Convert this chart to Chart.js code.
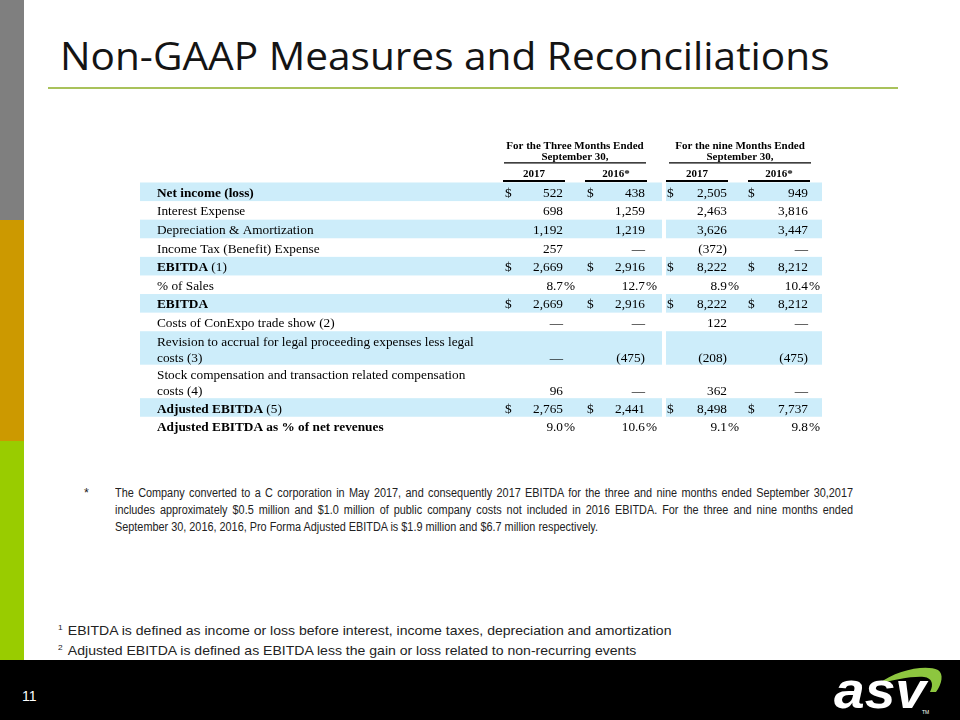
<!DOCTYPE html>
<html>
<head>
<meta charset="utf-8">
<script src="https://cdn.jsdelivr.net/npm/chart.js@4.4.1/dist/chart.umd.min.js"></script>
<style>
    body { margin: 0; background: #fff; }
    #slide { position: relative; width: 960px; height: 720px; overflow: hidden; background: #fff; font-family: "Liberation Sans", Arial, sans-serif; }
    .side { position: absolute; left: 0; width: 24px; }
    #title { position: absolute; left: 60px; top: 36px; font-family: "Open Sans", sans-serif; font-size: 38px; line-height: 38px; color: #141414; white-space: nowrap; transform-origin: left top; }
    #rule { position: absolute; left: 48px; top: 87px; width: 850px; height: 2px; background: #a9c25b; }
    #table-wrap { position: absolute; left: 140px; top: 136px; width: 690px; height: 304px; }
    #star { position: absolute; left: 84px; top: 486px; font-family: "Liberation Sans Narrow", "Liberation Sans", sans-serif; font-size: 12.5px; color: #222; }
    #star-note { position: absolute; left: 115px; top: 485px; transform-origin: left top; font-family: "Liberation Sans Narrow", "Liberation Sans", sans-serif; font-size: 12.5px; line-height: 17px; color: #222; }
    #star-note div { white-space: nowrap; text-align: justify; text-align-last: justify; }
    #star-note div.last { text-align-last: left; }
    .def { position: absolute; left: 58px; font-size: 13.5px; color: #222; white-space: nowrap; transform-origin: left top; }
    .def sup { font-size: 8px; vertical-align: 5px; margin-right: 5px; }
    #footer { position: absolute; left: 0; top: 660px; width: 960px; height: 60px; background: #000; }
    #page-no { position: absolute; left: 22px; top: 688px; color: #fff; font-size: 14px; }
    #logo { position: absolute; left: 826px; top: 660px; }
</style>
</head>
<body>
<div id="slide">
    <div class="side" style="top:0;height:220px;background:#7f7f7f"></div>
    <div class="side" style="top:220px;height:221px;background:#cc9900"></div>
    <div class="side" style="top:441px;height:219px;background:#99cc00"></div>

    <div id="title">Non-GAAP Measures and Reconciliations</div>
    <div id="rule"></div>

    <div id="table-wrap"><canvas id="recon-table" width="690" height="304"></canvas></div>

    <div id="star">*</div>
    <div id="star-note">
        <div>The Company converted to a C corporation in May 2017, and consequently 2017 EBITDA for the three and nine months ended September 30,2017</div>
        <div>includes approximately $0.5 million and $1.0 million of public company costs not included in 2016 EBITDA. For the three and nine months ended</div>
        <div class="last">September 30, 2016, 2016, Pro Forma Adjusted EBITDA is $1.9 million and $6.7 million respectively.</div>
    </div>

    <div class="def" id="def1" style="top:623px"><sup>1</sup>EBITDA is defined as income or loss before interest, income taxes, depreciation and amortization</div>
    <div class="def" id="def2" style="top:643px"><sup>2</sup>Adjusted EBITDA is defined as EBITDA less the gain or loss related to non-recurring events</div>

    <div id="footer"></div>
    <div id="page-no">11</div>
    <svg id="logo" width="130" height="60" viewBox="0 0 130 60">
        <path d="M52 24 C70 10, 100 4, 112 10 C118 14, 116 24, 110 32 L104 32 C108 24, 106 18, 98 17 C86 16, 68 20, 52 24 Z" fill="#8dc63f"/>
        <text x="8" y="48" font-family="Liberation Sans, Arial, sans-serif" font-weight="bold" font-style="italic" font-size="52" fill="#fff" textLength="92" lengthAdjust="spacingAndGlyphs">asv</text>
        <text x="96" y="54" font-family="Liberation Sans, Arial, sans-serif" font-size="5" fill="#fff">TM</text>
    </svg>
</div>

<script>
// ---- table content ----
const rowLabels = [
    'Net income (loss)',
    'Interest Expense',
    'Depreciation & Amortization',
    'Income Tax (Benefit) Expense',
    'EBITDA',
    '% of Sales',
    'EBITDA',
    'Costs of ConExpo trade show (2)',
    'Revision to accrual for legal proceeding expenses less legal\ncosts (3)',
    'Stock compensation and transaction related compensation\ncosts (4)',
    'Adjusted EBITDA',
    'Adjusted EBITDA as % of net revenues'
];
const rowNotes = ['', '', '', '', '(1)', '', '', '', '', '', '(5)', ''];
const rowBold = [true, false, false, false, true, false, true, false, false, false, true, true];
const rowShaded = [true, false, true, false, true, false, true, false, true, false, true, false];
const rowFormat = ['$', 'n', 'n', 'n', '$', '%', '$', 'n', 'n', 'n', '$', '%'];

const groupTitles = ['For the Three Months Ended', 'For the nine Months Ended'];
const groupSubtitle = 'September 30,';
const seriesLabels = ['2017', '2016*', '2017', '2016*'];

// null = dash, negative = parentheses
const threeMonths2017 = [522, 698, 1192, 257, 2669, 8.7, 2669, null, null, 96, 2765, 9.0];
const threeMonths2016 = [438, 1259, 1219, null, 2916, 12.7, 2916, null, -475, null, 2441, 10.6];
const nineMonths2017 = [2505, 2463, 3626, -372, 8222, 8.9, 8222, 122, -208, 362, 8498, 9.1];
const nineMonths2016 = [949, 3816, 3447, null, 8212, 10.4, 8212, null, -475, null, 7737, 9.8];
const seriesValues = [threeMonths2017, threeMonths2016, nineMonths2017, nineMonths2016];

// ---- layout (x in canvas px units, y in row units) ----
const LABEL_X = 17;
const DOLLAR_X = [365, 447, 527, 608];
const VALUE_RIGHT = [423, 505, 587, 668];
const YEAR_LINES = [[363, 425], [445, 507], [526, 588], [608, 670]];
const GROUP_LINES = [[364, 506], [529, 671]];
const SHADE_SEGMENTS = [[0, 522], [526, 682]];
const LINE_STEP = 0.86;
const FIRST_LINE = 0.53;
const SHADE = '#cdedfa';
const SERIF = '"Liberation Serif", "Times New Roman", serif';
const BODY_SIZE = '13.3px ';

const rowLines = rowLabels.map(l => l.split('\n').length);
const rowSpan = rowLines.map(n => 1 + (n - 1) * 0.8);
const rowTop = [];
rowSpan.reduce((acc, h, i) => { rowTop[i] = acc; return acc + h; }, 0);
const rowValueY = rowLines.map((n, i) => rowTop[i] + FIRST_LINE + (n - 1) * LINE_STEP);

function formatValue(v, kind) {
    if (v === null) return '—';
    if (kind === '%') return v.toFixed(1);
    const s = Math.abs(v).toLocaleString('en-US');
    return v < 0 ? '(' + s + ')' : s;
}

const tablePlugin = {
    id: 'reconTable',
    beforeDatasetsDraw(chart) {
        const { ctx, scales: { x, y } } = chart;
        ctx.save();
        ctx.fillStyle = SHADE;
        rowShaded.forEach((shaded, i) => {
            if (!shaded) return;
            const top = y.getPixelForValue(rowTop[i]);
            const bottom = y.getPixelForValue(rowTop[i] + rowSpan[i]);
            SHADE_SEGMENTS.forEach(([a, b]) => {
                const x0 = x.getPixelForValue(a);
                ctx.fillRect(x0, top, x.getPixelForValue(b) - x0, bottom - top);
            });
        });
        ctx.restore();
    },
    afterDatasetsDraw(chart) {
        const { ctx, scales: { x, y } } = chart;
        ctx.save();
        ctx.fillStyle = '#000';
        ctx.strokeStyle = '#000';
        ctx.textBaseline = 'alphabetic';

        // column headers
        ctx.font = 'bold 11px ' + SERIF;
        ctx.textAlign = 'center';
        GROUP_LINES.forEach(([a, b], g) => {
            const cx = x.getPixelForValue((a + b) / 2);
            ctx.fillText(groupTitles[g], cx, y.getPixelForValue(-2.02) + 4);
            ctx.fillText(groupSubtitle, cx, y.getPixelForValue(-1.45) + 4);
            ctx.lineWidth = 1.3;
            ctx.beginPath();
            ctx.moveTo(x.getPixelForValue(a), y.getPixelForValue(-1.05));
            ctx.lineTo(x.getPixelForValue(b), y.getPixelForValue(-1.05));
            ctx.stroke();
        });
        YEAR_LINES.forEach(([a, b], s) => {
            ctx.fillText(seriesLabels[s], x.getPixelForValue((a + b) / 2), y.getPixelForValue(-0.5) + 4);
            ctx.lineWidth = 2;
            ctx.beginPath();
            ctx.moveTo(x.getPixelForValue(a), y.getPixelForValue(-0.08));
            ctx.lineTo(x.getPixelForValue(b), y.getPixelForValue(-0.08));
            ctx.stroke();
        });

        // row labels
        ctx.textAlign = 'left';
        rowLabels.forEach((label, i) => {
            const lines = label.split('\n');
            const bold = rowBold[i] ? 'bold ' : '';
            lines.forEach((line, k) => {
                const py = y.getPixelForValue(rowTop[i] + FIRST_LINE + k * LINE_STEP) + 4.5;
                ctx.font = bold + BODY_SIZE + SERIF;
                ctx.fillText(line, x.getPixelForValue(LABEL_X), py);
                if (k === lines.length - 1 && rowNotes[i]) {
                    const w = ctx.measureText(line + ' ').width;
                    ctx.font = BODY_SIZE + SERIF;
                    ctx.fillText(rowNotes[i], x.getPixelForValue(LABEL_X) + w, py);
                }
            });
        });

        // values, placed at each dataset point
        ctx.font = BODY_SIZE + SERIF;
        seriesValues.forEach((values, s) => {
            const meta = chart.getDatasetMeta(s);
            meta.data.forEach((pt, i) => {
                const py = pt.y + 4.5;
                const kind = rowFormat[i];
                ctx.textAlign = 'right';
                ctx.fillText(formatValue(values[i], kind), pt.x, py);
                ctx.textAlign = 'left';
                if (kind === '%' && values[i] !== null) ctx.fillText('%', pt.x + 1, py);
                if (kind === '$') ctx.fillText('$', x.getPixelForValue(DOLLAR_X[s]), py);
            });
        });
        ctx.restore();
    }
};

new Chart(document.getElementById('recon-table'), {
    type: 'scatter',
    data: {
        datasets: seriesValues.map((values, s) => ({
            label: seriesLabels[s],
            data: values.map((v, i) => ({ x: VALUE_RIGHT[s], y: rowValueY[i] })),
            pointRadius: 0,
            pointHoverRadius: 0
        }))
    },
    options: {
        responsive: false,
        animation: false,
        events: [],
        layout: { padding: 0 },
        plugins: { legend: { display: false }, tooltip: { enabled: false } },
        scales: {
            x: { type: 'linear', display: false, min: 0, max: 690 },
            y: { type: 'linear', display: false, reverse: true, min: -2.5, max: 13.85 }
        }
    },
    plugins: [tablePlugin]
});

// fit slide text widths to the reference measurements
function fitWidth(el, target) {
    el.style.transform = 'none';
    const w = el.scrollWidth;
    el.style.transform = 'scaleX(' + (target / w) + ')';
}
fitWidth(document.getElementById('title'), 770);

const starNote = document.getElementById('star-note');
const lastLine = starNote.querySelector('.last');
lastLine.style.display = 'inline-block';
const s = 483 / lastLine.getBoundingClientRect().width;
lastLine.style.display = '';
starNote.style.width = (738 / s) + 'px';
starNote.style.transform = 'scaleX(' + s + ')';

const def1 = document.getElementById('def1');
const k = 614 / def1.scrollWidth;
['def1', 'def2'].forEach(id => { document.getElementById(id).style.transform = 'scaleX(' + k + ')'; });
</script>
</body>
</html>
